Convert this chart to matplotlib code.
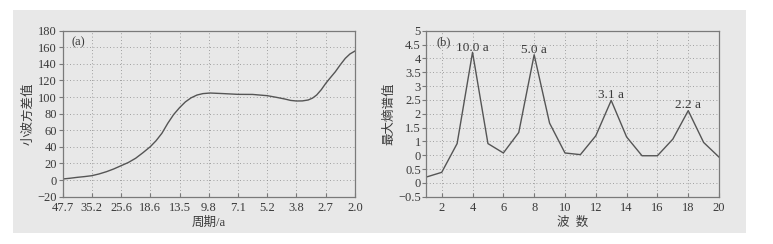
import matplotlib.pyplot as plt
from matplotlib.patches import Rectangle

# 图(a) 小波方差：横轴按刻度序号绘制，刻度标签为周期
period_labels = ["47.7", "35.2", "25.6", "18.6", "13.5", "9.8",
                 "7.1", "5.2", "3.8", "2.7", "2.0"]
var_x = [0, 0.25, 0.5, 0.75, 1, 1.25, 1.5, 1.75, 2, 2.25, 2.5, 2.75, 3,
         3.2, 3.4, 3.6, 3.8, 4, 4.2, 4.4, 4.6, 4.8, 5.05, 5.5, 6, 6.5, 7,
         7.3, 7.6, 7.8, 8, 8.2, 8.4, 8.55, 8.69, 8.85, 9, 9.15, 9.33, 9.5,
         9.67, 9.83, 10]
var_y = [1.3, 2.2, 3.3, 4.2, 5.3, 7.4, 10.1, 13.4, 17.3, 21.2, 26.3, 33.0,
         40.2, 47.5, 56.5, 68.5, 79.0, 87.2, 94.2, 99.2, 102.5, 104.2, 104.9,
         104.2, 103.3, 103.2, 101.7, 99.8, 97.7, 96.0, 95.3, 95.4, 96.5,
         98.8, 102.5, 109.0, 116.5, 123.0, 130.6, 139.0, 146.7, 152.0, 155.5]

# 图(b) 最大熵谱
wave_num = list(range(1, 21))
mem_val = [0.21, 0.38, 1.42, 4.72, 1.42, 1.08, 1.82, 4.63, 2.16, 1.08,
           1.02, 1.70, 2.98, 1.66, 0.98, 0.98, 1.58, 2.61, 1.46, 0.93]
peak_x = [4, 8, 13, 18]
peak_text = ["10.0 a", "5.0 a", "3.1 a", "2.2 a"]
peak_ty = [4.89, 4.81, 3.19, 2.83]
# 原图纵轴标签（照原样）
b_ytick_pos = [-0.5, 0, 0.5, 1, 1.5, 2, 2.5, 3, 3.5, 4, 4.5, 5, 5.5]
b_ytick_lab = ["\u22120.5", "0", "0.5", "0", "1", "1.5", "2", "2.5", "3",
               "3.5", "4", "4.5", "5"]

plt.rcParams["font.family"] = ["Liberation Serif", "Noto Sans CJK SC"]
plt.rcParams["font.size"] = 9
plt.rcParams["axes.unicode_minus"] = True

bg = "#e8e8e8"
ink = "#3a3a3a"
line_c = "#555555"
spine_c = "#7a7a7a"

fig = plt.figure(figsize=(7.73, 2.44), dpi=100)
fig.patch.set_facecolor("white")
fig.patches.append(Rectangle((13 / 773, 1 - 233 / 244), (746 - 13) / 773,
                             (233 - 10) / 244, transform=fig.transFigure,
                             facecolor=bg, edgecolor="none", zorder=-10))

ax1 = fig.add_axes([0.0809, 0.1939, 0.3783, 0.6803])
ax2 = fig.add_axes([0.5515, 0.1939, 0.3787, 0.6803])


def style(ax):
    ax.set_facecolor(bg)
    for s in ax.spines.values():
        s.set_color(spine_c)
        s.set_linewidth(0.9)
    ax.tick_params(axis="x", direction="in", length=3, colors=spine_c,
                   labelcolor=ink, labelsize=9, pad=3.5)
    ax.tick_params(axis="y", direction="out", length=3, colors=spine_c,
                   labelcolor=ink, labelsize=9, pad=1)
    ax.grid(True, linestyle=(0, (1, 3)), color="#888888", linewidth=0.6)
    ax.set_axisbelow(True)


# (a)
style(ax1)
ax1.plot(var_x, var_y, color=line_c, linewidth=1.0)
ax1.set_xlim(0, 10)
ax1.set_ylim(-20, 180)
ax1.set_xticks(range(len(period_labels)))
ax1.set_xticklabels(period_labels)
ax1.set_yticks(range(-20, 181, 20))
ax1.set_xlabel("周期/a", color=ink, fontsize=9, labelpad=2)
ax1.set_ylabel("小波方差值", color=ink, fontsize=9, labelpad=2)
ax1.text(0.03, 0.93, "(a)", transform=ax1.transAxes, color=ink,
         fontsize=9, va="center")

# (b)
style(ax2)
ax2.plot(wave_num, mem_val, color=line_c, linewidth=1.0)
ax2.set_xlim(1, 20)
ax2.set_ylim(-0.5, 5.5)
ax2.set_xticks(range(2, 21, 2))
ax2.set_yticks(b_ytick_pos)
ax2.set_yticklabels(b_ytick_lab)
ax2.set_xlabel("波  数", color=ink, fontsize=9, labelpad=2)
ax2.set_ylabel("最大熵谱值", color=ink, fontsize=9, labelpad=2)
ax2.text(0.035, 0.93, "(b)", transform=ax2.transAxes, color=ink,
         fontsize=9, va="center")
for px, pt, py in zip(peak_x, peak_text, peak_ty):
    ax2.text(px, py, pt, ha="center", va="center", color=ink, fontsize=9.5)

fig.savefig("out.png", dpi=100, facecolor=fig.get_facecolor())
